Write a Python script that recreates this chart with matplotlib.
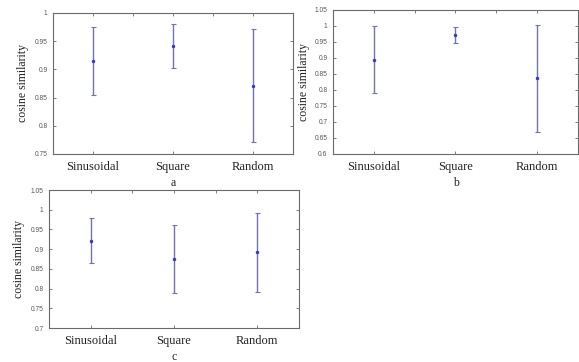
import matplotlib
matplotlib.use("Agg")
import matplotlib.pyplot as plt

categories = ["Sinusoidal", "Square", "Random"]

# panel a
mean_a = [0.915, 0.941, 0.871]
low_a = [0.854, 0.902, 0.772]
high_a = [0.976, 0.981, 0.972]

# panel b
mean_b = [0.894, 0.973, 0.837]
low_b = [0.790, 0.946, 0.668]
high_b = [1.001, 0.996, 1.004]

# panel c
mean_c = [0.920, 0.875, 0.892]
low_c = [0.864, 0.789, 0.792]
high_c = [0.978, 0.961, 0.991]

yticks_a = [0.75, 0.8, 0.85, 0.9, 0.95, 1]
yticks_b = [0.6, 0.65, 0.7, 0.75, 0.8, 0.85, 0.9, 0.95, 1, 1.05]
yticks_c = [0.7, 0.75, 0.8, 0.85, 0.9, 0.95, 1, 1.05]

bar_color = "#7274b0"
dot_color = "#3a3ac8"
frame_color = "#6a6a6a"

fig = plt.figure(figsize=(5.79, 3.62), dpi=100)


def draw_panel(rect, means, lows, highs, yticks, letter):
    ax = fig.add_axes(rect)
    x = [1, 2, 3]
    err = [[m - l for m, l in zip(means, lows)], [h - m for m, h in zip(means, highs)]]
    ax.errorbar(x, means, yerr=err, fmt=".", color=bar_color, ecolor=bar_color,
                markerfacecolor=dot_color, markeredgecolor=dot_color, markersize=3,
                elinewidth=1.0, capsize=1.8, capthick=0.8)
    ax.set_xlim(0.5, 3.5)
    ax.set_ylim(yticks[0], yticks[-1])
    ax.set_xticks(x)
    ax.set_xticks([1.5, 2.5], minor=True)
    ax.set_xticklabels(categories, family="Liberation Serif", fontsize=9, color="#222222")
    ax.set_yticks(yticks)
    ax.set_yticklabels(["%g" % t for t in yticks], family="Liberation Sans", fontsize=4.8, color="#555555")
    ax.tick_params(axis="both", which="both", direction="in", top=True, right=True,
                   length=2, width=0.6, color=frame_color)
    ax.tick_params(axis="x", which="major", pad=5)
    ax.tick_params(axis="x", which="minor", bottom=False)
    ax.tick_params(axis="y", pad=4)
    for s in ax.spines.values():
        s.set_color(frame_color)
        s.set_linewidth(0.8)
    ax.set_ylabel("cosine similarity", family="Liberation Serif", fontsize=8.5, color="#222222", labelpad=4)
    ax.set_xlabel(letter, family="Liberation Serif", fontsize=8.5, color="#222222", labelpad=3)
    return ax


draw_panel([0.0915, 0.5746, 0.4145, 0.3895], mean_a, low_a, high_a, yticks_a, "a")
ax_b = draw_panel([0.5751, 0.5746, 0.4231, 0.3978], mean_b, low_b, high_b, yticks_b, "b")
ax_b.yaxis.set_label_coords(-0.094, 0.5)
draw_panel([0.0846, 0.0939, 0.4318, 0.3812], mean_c, low_c, high_c, yticks_c, "c")

fig.savefig("out.png", dpi=100)
